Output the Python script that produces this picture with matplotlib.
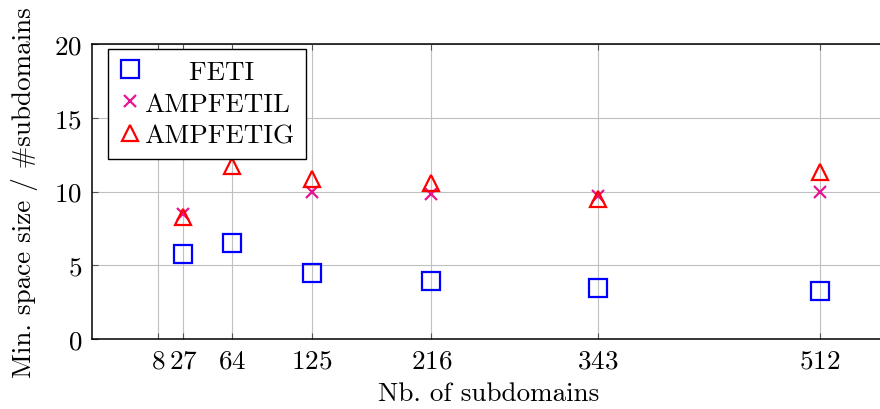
import numpy as np
import matplotlib
matplotlib.use('Agg')
import matplotlib.pyplot as plt

plt.rcParams['font.family'] = ['cmr10', 'DejaVu Serif']
plt.rcParams['mathtext.fontset'] = 'cm'
plt.rcParams['axes.formatter.use_mathtext'] = True

# data
subdomains = [27, 64, 125, 216, 343, 512]
feti = [5.75, 6.5, 4.45, 3.93, 3.46, 3.24]
ampfetil = [8.45, np.nan, 9.95, 9.82, 9.72, 10.0]
ampfetig = [8.25, 11.7, 10.85, 10.55, 9.5, 11.3]
xticks = [8, 27, 64, 125, 216, 343, 512]
yticks = [0, 5, 10, 15, 20]

fs = 19.5
fig = plt.figure(figsize=(8.8, 4.1), dpi=100)
ax = fig.add_axes([92/880, 70/410, 794/880, 295/410])

ax.plot(subdomains, feti, linestyle='None', marker='s', markersize=12.5,
        markerfacecolor='none', markeredgecolor='#0000ff', markeredgewidth=1.6,
        label='     FETI', zorder=3)
ax.plot(subdomains, ampfetil, linestyle='None', marker='x', markersize=9,
        markeredgecolor='#e8138f', markeredgewidth=1.6,
        label='AMPFETIL', zorder=3)
ax.plot(subdomains, ampfetig, linestyle='None', marker='^', markersize=11,
        markerfacecolor='none', markeredgecolor='#ff0000', markeredgewidth=1.6,
        label='AMPFETIG', zorder=3)

ax.set_xlim(-42.4, 562.4)
ax.set_ylim(0, 20)
ax.set_xticks(xticks)
ax.set_yticks(yticks)
ax.grid(True, color='#c0c0c0', linewidth=0.8)
ax.set_axisbelow(True)
ax.tick_params(direction='in', length=4, width=0.8, color='#555555',
               top=True, right=True, labelsize=fs, pad=7)
for s in ax.spines.values():
    s.set_linewidth(1.1)

ax.set_xlabel('Nb. of subdomains', fontsize=fs, labelpad=6)
ax.set_ylabel('Min. space size / #subdomains', fontsize=fs, labelpad=12)

leg = ax.legend(loc='upper left', bbox_to_anchor=(0.02, 0.983),
                borderaxespad=0, fontsize=fs, fancybox=False, framealpha=1,
                edgecolor='black', handlelength=0.8, handletextpad=0.15,
                labelspacing=0.3, borderpad=0.4)
leg.get_frame().set_linewidth(1.0)
leg.set_zorder(5)

fig.savefig('out.png', dpi=100)
